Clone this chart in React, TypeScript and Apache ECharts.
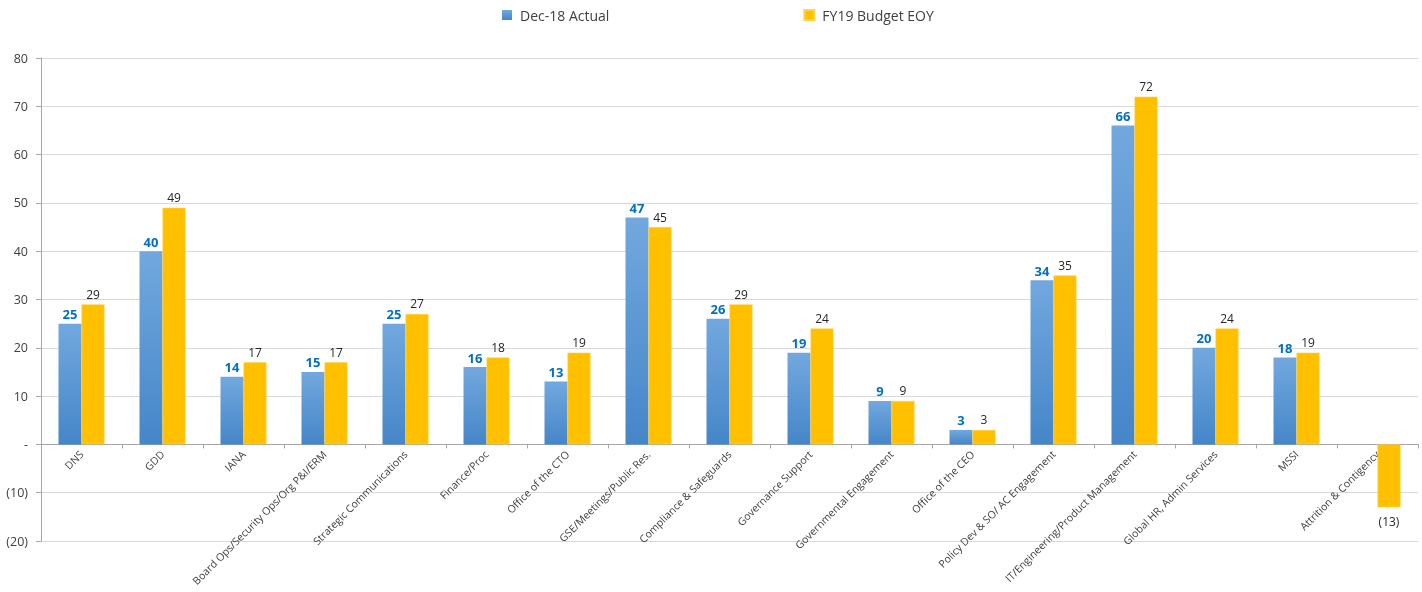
import React, { useEffect, useRef } from "react";
import * as echarts from "echarts";

const categories = [
  "DNS",
  "GDD",
  "IANA",
  "Board Ops/Security Ops/Org P&I/ERM",
  "Strategic Communications",
  "Finance/Proc",
  "Office of the CTO",
  "GSE/Meetings/Public Res.",
  "Compliance & Safeguards",
  "Governance Support",
  "Governmental Engagement",
  "Office of the CEO",
  "Policy Dev & SO/ AC Engagement",
  "IT/Engineering/Product Management",
  "Global HR, Admin Services",
  "MSSI",
  "Attrition & Contigency",
];

const actualValues: (number | null)[] = [25, 40, 14, 15, 25, 16, 13, 47, 26, 19, 9, 3, 34, 66, 20, 18, null];
const budgetValues: number[] = [29, 49, 17, 17, 27, 18, 19, 45, 29, 24, 9, 3, 35, 72, 24, 19, -13];

const seriesNames = ["Dec-18 Actual", "FY19 Budget EOY"];

const FONT = "'Open Sans', 'Noto Sans', sans-serif";

const Y_MIN = -20;
const Y_MAX = 80;
const GRID_TOP = 58;
const GRID_BOTTOM = 51;
const CHART_H = 592;

const fmtNum = (v: number) => (v === 0 ? "-" : v < 0 ? `(${Math.abs(v)})` : `${v}`);

export default function App() {
  const ref = useRef<HTMLDivElement>(null);

  useEffect(() => {
    if (!ref.current) return;
    const chart = echarts.init(ref.current, undefined, { renderer: "svg" });

    const blueGradient = new echarts.graphic.LinearGradient(0, 0, 0, 1, [
      { offset: 0, color: "#72A8DE" },
      { offset: 1, color: "#4586C9" },
    ]);

    const budgetData = budgetValues.map((v) =>
      v < 0
        ? { value: v, label: { position: "bottom" as const, distance: 8 } }
        : { value: v }
    );

    // move the category axis up to the zero line
    const plotH = CHART_H - GRID_TOP - GRID_BOTTOM;
    const zeroFromBottom = (plotH * (0 - Y_MIN)) / (Y_MAX - Y_MIN);

    chart.setOption({
      animation: false,
      textStyle: { fontFamily: FONT },
      legend: {
        top: 3,
        left: 497,
        itemWidth: 10,
        itemHeight: 10,
        itemGap: 194,
        icon: "rect",
        textStyle: { fontSize: 14, color: "#404040", fontFamily: FONT, padding: [0, 0, 0, 3] },
        data: seriesNames,
      },
      grid: {
        left: 41,
        right: 4,
        top: GRID_TOP,
        bottom: GRID_BOTTOM,
        containLabel: false,
        outerBoundsMode: "none",
      },
      xAxis: {
        type: "category",
        data: categories,
        offset: -zeroFromBottom,
        axisLine: { onZero: false, lineStyle: { color: "#A6A6A6" } },
        axisTick: { show: true, length: 4, lineStyle: { color: "#A6A6A6" } },
        axisLabel: {
          rotate: 45,
          interval: 0,
          fontSize: 10.5,
          color: "#404040",
          fontFamily: FONT,
          margin: 8,
        },
        splitLine: { show: false },
      },
      yAxis: {
        type: "value",
        min: Y_MIN,
        max: Y_MAX,
        interval: 10,
        axisLine: { show: true, lineStyle: { color: "#A6A6A6" } },
        axisTick: { show: true, length: 5, lineStyle: { color: "#A6A6A6" } },
        axisLabel: {
          formatter: (v: number) => fmtNum(v),
          fontSize: 12.5,
          color: "#404040",
          fontFamily: FONT,
          margin: 13,
        },
        splitLine: { lineStyle: { color: "#D9D9D9" } },
      },
      series: [
        {
          name: seriesNames[0],
          type: "bar",
          data: actualValues,
          barWidth: 23,
          barGap: "0%",
          itemStyle: { color: blueGradient },
          label: {
            show: true,
            position: "top",
            distance: 3,
            fontSize: 13,
            fontWeight: "bold",
            color: "#0070C0",
            fontFamily: FONT,
            formatter: (p: any) => fmtNum(p.value),
          },
        },
        {
          name: seriesNames[1],
          type: "bar",
          data: budgetData,
          barWidth: 23,
          barGap: "0%",
          itemStyle: { color: "#FFC000", borderColor: "#FFD34D", borderWidth: 0.6 },
          label: {
            show: true,
            position: "top",
            distance: 4,
            fontSize: 12,
            color: "#262626",
            fontFamily: FONT,
            formatter: (p: any) => fmtNum(p.value),
          },
        },
      ],
    });

    return () => chart.dispose();
  }, []);

  return (
    <div
      ref={ref}
      style={{ position: "fixed", left: 0, top: 0, width: 1422, height: CHART_H }}
    />
  );
}
